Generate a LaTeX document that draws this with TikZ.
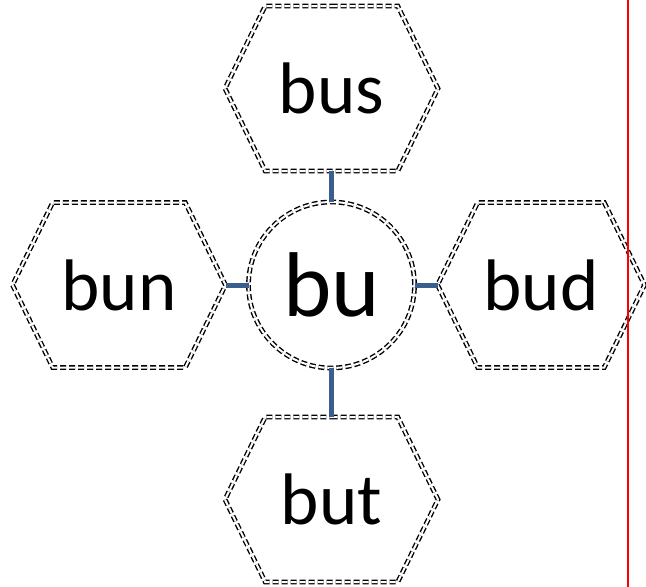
\documentclass[tikz,border=0pt]{standalone}
\usepackage{fontspec}
\setmainfont{Carlito}
\usepackage{xcolor}
\usetikzlibrary{shapes.symbols, positioning}
\definecolor{linkblue}{HTML}{3A5F8F}

\begin{document}
\begin{tikzpicture}[
    x=1pt, y=-1pt,
    outline/.style={draw, line width=1.4pt, double, double distance=2pt,
                    dash pattern=on 6pt off 3pt, outer sep=0pt, inner sep=0pt},
    hexbox/.style={outline, signal, signal to=west and east, signal pointer angle=128,
                   minimum width=213pt, minimum height=165pt,
                   font=\fontsize{73}{75}\selectfont},
    rootbox/.style={outline, circle, minimum size=166pt,
                    font=\fontsize{92}{94}\selectfont},
    link/.style={linkblue, line width=5pt},
]
\useasboundingbox (0,0) rectangle (646,587);

% Root and children
\node[rootbox] (bu) at (331.5,285) {bu};
\node[hexbox, above=31pt of bu] (bus) {bus};
\node[hexbox, left=23pt of bu] (bun) {bun};
\node[hexbox, right=23pt of bu, minimum width=207pt] (bud) {bud};
\node[hexbox, below=49pt of bu] (but) {but};

% Links
\draw[link] (bu.north) -- (bus.south);
\draw[link] (bu.west) -- (bun.east);
\draw[link] (bu.east) -- (bud.west);
\draw[link] (bu.south) -- (but.north);

% Margin line
\draw[red, line width=2pt] (628,0) -- (628,587);

\end{tikzpicture}
\end{document}
